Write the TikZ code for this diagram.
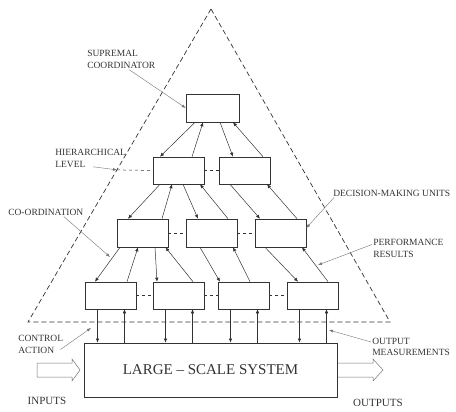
\documentclass[tikz,border=0pt]{standalone}
\usepackage{fontspec}
\setmainfont{Liberation Serif}
\usetikzlibrary{arrows.meta, calc}
\colorlet{ink}{black!80}
\colorlet{faint}{black!55}
\tikzset{
  every picture/.style={line width=0.6pt, x=1pt, y=-1pt},
  unit/.style={draw=ink, minimum width=51pt, minimum height=27pt, inner sep=0pt},
  link/.style={draw=ink, line width=0.5pt, -{Latex[length=4pt, width=3.5pt]}},
  peer/.style={draw=ink, dashed, line width=0.5pt},
  pointer/.style={draw=faint, line width=0.4pt, -{Latex[length=4pt, width=3pt]}},
  tag/.style={font=\fontsize{9.5}{11.5}\selectfont, text=ink, align=left, inner sep=1pt},
  hollow/.style={draw=faint, line width=0.5pt},
}

\begin{document}
\begin{tikzpicture}
  \useasboundingbox (0,0) rectangle (456,412);
  % dashed triangle of the hierarchy
  \coordinate (apex) at (211,9);
  \coordinate (bl) at (28,322);
  \coordinate (br) at (390,322);
  \draw[peer, line width=0.7pt, dash pattern=on 5pt off 3pt] (apex) -- (bl) -- (br) -- cycle;

  % decision-making units
  \node[unit, minimum width=53pt, minimum height=28pt] (sup) at (212.5,108) {};
  \node[unit] (ha) at (178.5,170.5) {};
  \node[unit] (hb) at (244.5,170.5) {};
  \foreach \n/\x in {mc/142.5, md/211.5, me/280.5}
    \node[unit, minimum height=28pt] (\n) at (\x,233) {};
  \foreach \i/\x in {1/110.5, 2/178.5, 3/243.5, 4/312.5}
    \node[unit] (l\i) at (\x,295.5) {};
  \node[draw=ink, line width=0.8pt, minimum width=253pt, minimum height=54pt, text=ink,
        font=\fontsize{15}{17}\selectfont] (lss) at (210.5,370) {LARGE -- SCALE SYSTEM};

  % coordination down, performance up
  \foreach \p/\c/\pa/\ca/\cb/\pb in {sup/ha/-17.5/-18.5/13.5/-9.5, sup/hb/7.5/-11.5/18.5/20.5,
      ha/mc/-18.5/-14.5/19.5/-6.5, ha/md/4.5/-13.5/16.5/21.5, hb/me/-14.5/-20.5/16.5/22.5,
      mc/l1/-22.5/-15.5/16.5/-4.5, mc/l2/12.5/-21.5/14.5/23, md/l3/-11.5/-23.5/6.5/21.5,
      me/l4/-15.5/-14.5/15.5/21.5} {
    \draw[link] ([xshift=\pa]\p.south) -- ([xshift=\ca]\c.north);
    \draw[link] ([xshift=\cb]\c.north) -- ([xshift=\pb]\p.south);
  }
  \foreach \a/\b in {ha/hb, mc/md, md/me, l1/l2, l2/l3, l3/l4}
    \draw[peer] (\a) -- (\b);

  % control actions and measurements
  \foreach \i in {1,...,4} {
    \coordinate (cd\i) at ([xshift=-13]l\i.south);
    \coordinate (cu\i) at ([xshift=14]l\i.south);
    \draw[link] (cd\i) -- (cd\i |- lss.north);
    \draw[link] (cu\i |- lss.north) -- (cu\i);
  }

  % inputs and outputs
  \draw[hollow] (37,363) -- (72,363) -- (72,359) -- (80,370) -- (72,381) -- (72,377) -- (37,377) -- cycle;
  \draw[hollow] (338,363) -- (373,363) -- (373,359) -- (383,370) -- (373,381) -- (373,377) -- (338,377);
  \node[tag, font=\fontsize{11}{13}\selectfont] (inlab) at (47,401) {INPUTS};
  \node[tag, font=\fontsize{11}{13}\selectfont] (outlab) at (378,403) {OUTPUTS};

  % labels
  \node[tag, anchor=west] (suplab) at (86,59.5) {SUPREMAL\\COORDINATOR};
  \draw[pointer] ([xshift=8]suplab.south) -- (sup.west);
  \coordinate (hl) at ($(apex)!0.514!(bl)$);
  \node[tag, anchor=west] (hierlab) at (54,158.5) {HIERARCHICAL\\LEVEL};
  \draw[pointer] ([xshift=39, yshift=2]hierlab.south west) -- (hl);
  \draw[peer] (hl) -- (ha.west);
  \coordinate (copt) at (110,257);
  \node[tag, anchor=west] (colab) at (7,212) {CO-ORDINATION};
  \draw[pointer] ([xshift=18]colab.south) -- (copt);
  \node[tag, anchor=west] (declab) at (332,193) {DECISION-MAKING UNITS};
  \draw[pointer] ([xshift=2]declab.south west) -- ([yshift=5]me.east);
  \coordinate (perfpt) at (318,265);
  \node[tag, anchor=west] (perflab) at (372,248.5) {PERFORMANCE\\RESULTS};
  \draw[pointer] ([yshift=4]perflab.west) -- (perfpt);
  \coordinate (ctrlpt) at (91,328);
  \node[tag, anchor=west] (ctrllab) at (17,344.5) {CONTROL\\ACTION};
  \draw[pointer] ([xshift=-4, yshift=-5]ctrllab.east) -- (ctrlpt);
  \coordinate (measpt) at (329,330);
  \node[tag, anchor=west] (measlab) at (371,347) {OUTPUT\\MEASUREMENTS};
  \draw[pointer] ([yshift=5]measlab.west) -- (measpt);
\end{tikzpicture}
\end{document}
